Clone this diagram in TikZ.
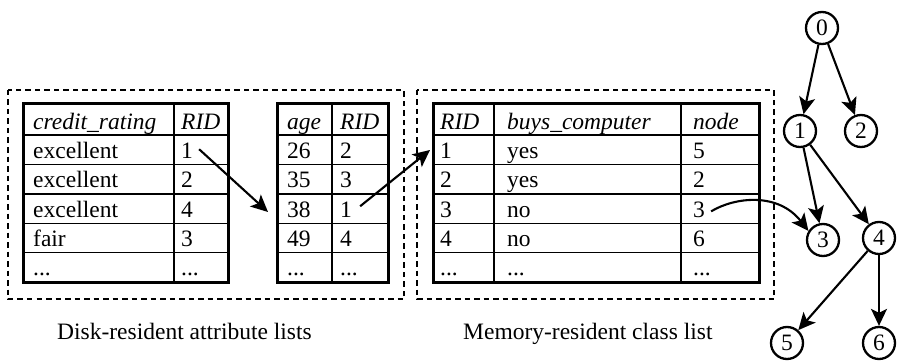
\documentclass[tikz,border=0pt]{standalone}
\usepackage{fontspec}
\setmainfont{Liberation Serif}
\usetikzlibrary{arrows.meta}
\begin{document}
\begin{tikzpicture}[x=1pt,y=-1pt,
  txt/.style={anchor=base west, inner sep=0pt, font=\fontsize{23.5}{26}\selectfont},
  hdr/.style={anchor=base west, inner sep=0pt, font=\fontsize{23.5}{26}\selectfont\itshape},
  captext/.style={anchor=base west, inner sep=0pt, font=\fontsize{23.5}{26}\selectfont},
  outerline/.style={line width=3pt},
  colline/.style={line width=2.5pt},
  rowline/.style={line width=1.4pt},
  dbox/.style={line width=2.8pt, dash pattern=on 5.5pt off 4pt},
  arr/.style={line width=2.1pt, -{Stealth[length=17pt,width=16pt,inset=4pt]}},
  tnode/.style={circle, draw, line width=2.3pt, minimum size=32pt, inner sep=0pt, font=\fontsize{23.5}{26}\selectfont}
]
\useasboundingbox (0,0) rectangle (898,361);

% dashed boxes
\draw[dbox] (8,90) rectangle (404,299);
\draw[dbox] (417,90) rectangle (774,299);

% row separators
\foreach \yy in {135,164.4,193.8,223.2,252.6} {
  \draw[rowline] (23,\yy) -- (228,\yy);
  \draw[rowline] (277,\yy) -- (388,\yy);
  \draw[rowline] (433,\yy) -- (759,\yy);
}
% column separators
\draw[colline] (174,104) -- (174,282);
\draw[colline] (332,104) -- (332,282);
\draw[colline] (494,104) -- (494,282);
\draw[colline] (681,104) -- (681,282);
% outer borders
\draw[outerline] (23,104) rectangle (228,282);
\draw[outerline] (277,104) rectangle (388,282);
\draw[outerline] (433,104) rectangle (759,282);

% table 1
\node[hdr] (a0) at (33,129) {credit\_rating};
\node[hdr] (b0) at (181,129) {RID};
\node[txt] (a1) at (33,158) {excellent};
\node[txt] (b1) at (181,158) {1};
\node[txt] (a2) at (33,187.5) {excellent};
\node[txt] (b2) at (181,187.5) {2};
\node[txt] (a3) at (33,217) {excellent};
\node[txt] (b3) at (181,217) {4};
\node[txt] (a4) at (33,246) {fair};
\node[txt] (b4) at (181,246) {3};
\node[txt] (a5) at (33,275.5) {...};
\node[txt] (b5) at (181,275.5) {...};

% table 2
\node[hdr] (c0) at (287,129) {age};
\node[hdr] (d0) at (340,129) {RID};
\node[txt] (c1) at (287,158) {26};
\node[txt] (d1) at (340,158) {2};
\node[txt] (c2) at (287,187.5) {35};
\node[txt] (d2) at (340,187.5) {3};
\node[txt] (c3) at (287,217) {38};
\node[txt] (d3) at (340,217) {1};
\node[txt] (c4) at (287,246) {49};
\node[txt] (d4) at (340,246) {4};
\node[txt] (c5) at (287,275.5) {...};
\node[txt] (d5) at (340,275.5) {...};

% table 3
\node[hdr] (e0) at (440,129) {RID};
\node[hdr] (f0) at (507,129) {buys\_computer};
\node[hdr] (g0) at (693,129) {node};
\node[txt] (e1) at (440,158) {1};
\node[txt] (f1) at (507,158) {yes};
\node[txt] (g1) at (693,158) {5};
\node[txt] (e2) at (440,187.5) {2};
\node[txt] (f2) at (507,187.5) {yes};
\node[txt] (g2) at (693,187.5) {2};
\node[txt] (e3) at (440,217) {3};
\node[txt] (f3) at (507,217) {no};
\node[txt] (g3) at (693,217) {3};
\node[txt] (e4) at (440,246) {4};
\node[txt] (f4) at (507,246) {no};
\node[txt] (g4) at (693,246) {6};
\node[txt] (e5) at (440,275.5) {...};
\node[txt] (f5) at (507,275.5) {...};
\node[txt] (g5) at (693,275.5) {...};

% captions
\node[captext] (capA) at (57,339) {Disk-resident attribute lists};
\node[captext] (capB) at (463,339) {Memory-resident class list};

% tree
\node[tnode] (t0) at (822,28) {0};
\node[tnode] (t1) at (800,131) {1};
\node[tnode] (t2) at (861,131) {2};
\node[tnode] (t3) at (823,240) {3};
\node[tnode] (t4) at (879,238) {4};
\node[tnode] (t5) at (787,343) {5};
\node[tnode] (t6) at (879,343) {6};

\draw[arr] (t0) -- (t1);
\draw[arr] (t0) -- (t2);
\draw[arr] (t1) -- (t3);
\draw[arr] (t1) -- (t4);
\draw[arr] (t4) -- (t5);
\draw[arr] (t4) -- (t6);

% pointer arrows
\coordinate (p1) at (268,212);
\coordinate (p2) at (430,150);
\draw[arr] ([xshift=6pt,yshift=1pt]b1.east) -- (p1);
\draw[arr] ([xshift=8pt,yshift=3pt]d3.east) -- (p2);
\draw[arr] ([xshift=6pt,yshift=-2pt]g3.east) .. controls (735,197) and (778,192) .. (t3.148);
\end{tikzpicture}
\end{document}
